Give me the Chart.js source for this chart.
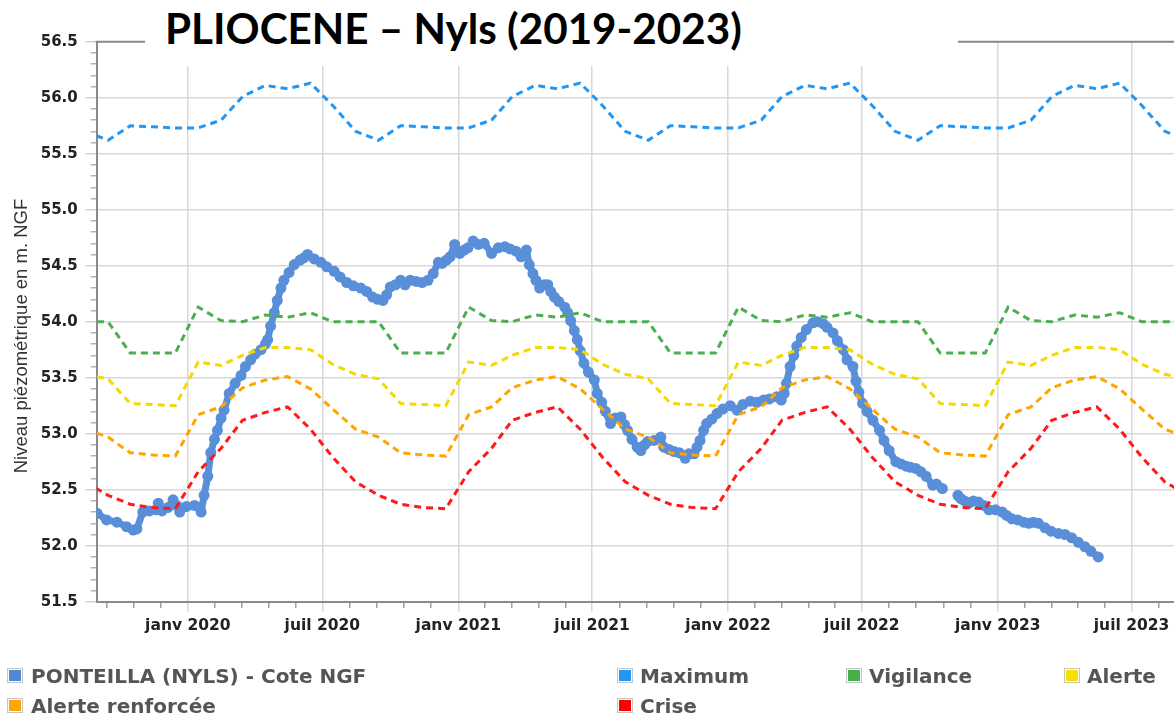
<!DOCTYPE html>
<html>
<head>
<meta charset="utf-8">
<script src="https://cdn.jsdelivr.net/npm/chart.js@4/dist/chart.umd.min.js"></script>
<style>
html,body{margin:0;padding:0;background:#fff;overflow:hidden;width:1174px;height:717px;}
#wrap{position:relative;width:1174px;height:717px;overflow:hidden;}
#c{position:absolute;left:0;top:0;}
#titleBox{position:absolute;left:145px;top:0;width:813px;height:66px;background:#fff;}
#title{position:absolute;left:20px;top:7px;font-family:Lato,"Open Sans",sans-serif;font-weight:700;font-size:42.2px;line-height:42.5px;color:#000;white-space:nowrap;}
#ytitle{position:absolute;left:21px;top:336px;transform:translate(-50%,-50%) rotate(-90deg);font-family:"Liberation Sans",Arial,sans-serif;font-size:18.5px;color:#333;white-space:nowrap;}
.lbx{position:absolute;width:14px;height:13px;border:1px solid #c4c4c4;box-shadow:inset 0 0 0 1px #fff;}
.ltx{position:absolute;font-family:"DejaVu Sans",sans-serif;font-weight:bold;font-size:20px;line-height:20px;color:#555;white-space:nowrap;}
</style>
</head>
<body>
<div id="wrap">
<canvas id="c" width="1200" height="717"></canvas>
<div id="titleBox"><div id="title">PLIOCENE – Nyls (2019-2023)</div></div>
<div id="ytitle">Niveau piézométrique en m. NGF</div>
<div id="legend"></div>
</div>
<script>
// ---------- DATA ----------
const tickDates = ['2019-07-01','2020-01-01','2020-07-01','2021-01-01','2021-07-01','2022-01-01','2022-07-01','2023-01-01','2023-07-01','2024-01-01'];
const tickLabels = ['juil 2019','janv 2020','juil 2020','janv 2021','juil 2021','janv 2022','juil 2022','janv 2023','juil 2023','janv 2024'];

const levelDates = [
'2019-08-31','2019-09-13','2019-09-27','2019-10-10','2019-10-19','2019-10-24','2019-11-01','2019-11-10','2019-11-19','2019-11-22',
'2019-11-27','2019-12-05','2019-12-12','2019-12-17','2019-12-21','2019-12-30','2020-01-10','2020-01-17','2020-01-19','2020-01-23',
'2020-01-28','2020-02-01','2020-02-06','2020-02-10','2020-02-15','2020-02-19','2020-02-26','2020-03-05','2020-03-13','2020-03-19',
'2020-03-26','2020-04-01','2020-04-09','2020-04-15','2020-04-18','2020-04-22','2020-04-27','2020-05-01','2020-05-06','2020-05-10',
'2020-05-17','2020-05-24','2020-06-01','2020-06-06','2020-06-11','2020-06-20','2020-06-29','2020-07-07','2020-07-17','2020-07-25',
'2020-08-03','2020-08-12','2020-08-22','2020-08-30','2020-09-07','2020-09-14','2020-09-21','2020-09-26','2020-10-01','2020-10-08',
'2020-10-15','2020-10-21','2020-10-28','2020-11-05','2020-11-13','2020-11-21','2020-11-28','2020-12-05','2020-12-10','2020-12-16',
'2020-12-21','2020-12-27','2021-01-03','2021-01-09','2021-01-14','2021-01-21','2021-01-28','2021-02-05','2021-02-15','2021-02-24',
'2021-03-05','2021-03-12','2021-03-20','2021-03-27','2021-04-03','2021-04-07','2021-04-12','2021-04-16','2021-04-21','2021-04-27',
'2021-05-02','2021-05-06','2021-05-11','2021-05-17','2021-05-25','2021-05-29','2021-06-02','2021-06-07','2021-06-11','2021-06-15',
'2021-06-20','2021-06-26','2021-07-04','2021-07-08','2021-07-14','2021-07-19','2021-07-26','2021-08-01','2021-08-09','2021-08-14',
'2021-08-18','2021-08-24','2021-08-31','2021-09-05','2021-09-10','2021-09-14','2021-09-23','2021-10-02','2021-10-06','2021-10-13',
'2021-10-20','2021-10-27','2021-11-04','2021-11-09','2021-11-16','2021-11-20','2021-11-24','2021-11-29','2021-12-03','2021-12-10',
'2021-12-17','2021-12-25','2022-01-04','2022-01-13','2022-01-21','2022-01-31','2022-02-09','2022-02-18','2022-02-26','2022-03-08',
'2022-03-14','2022-03-18','2022-03-21','2022-03-26','2022-03-31','2022-04-04','2022-04-10','2022-04-17','2022-04-26','2022-05-02',
'2022-05-10','2022-05-15','2022-05-23','2022-05-29','2022-06-06','2022-06-11','2022-06-19','2022-06-23','2022-06-27','2022-07-02',
'2022-07-08','2022-07-16','2022-07-25','2022-07-31','2022-08-07','2022-08-16','2022-08-23','2022-08-30','2022-09-05','2022-09-12',
'2022-09-19','2022-09-26','2022-10-05','2022-10-10','2022-10-18','2022-10-28','2022-11-08','2022-11-12','2022-11-17','2022-11-23',
'2022-11-29','2022-12-06','2022-12-13','2022-12-20','2022-12-29','2023-01-07','2023-01-13','2023-01-20','2023-01-28','2023-02-05',
'2023-02-12','2023-02-18','2023-02-25','2023-03-06','2023-03-14','2023-03-24','2023-04-02','2023-04-11','2023-04-20','2023-04-29',
'2023-05-07','2023-05-17'
];
const levelValues = [
52.29,52.23,52.21,52.17,52.14,52.15,52.30,52.31,52.32,52.38,
52.31,52.34,52.41,52.36,52.30,52.35,52.36,52.34,52.30,52.45,
52.62,52.83,52.95,53.03,53.14,53.21,53.36,53.45,53.52,53.60,
53.66,53.71,53.75,53.80,53.84,53.96,54.08,54.19,54.30,54.37,
54.44,54.51,54.55,54.57,54.60,54.56,54.53,54.49,54.45,54.40,
54.35,54.32,54.30,54.27,54.22,54.20,54.19,54.24,54.31,54.33,
54.37,54.33,54.37,54.36,54.35,54.37,54.43,54.53,54.52,54.55,
54.58,54.69,54.61,54.64,54.66,54.72,54.69,54.70,54.61,54.66,
54.67,54.65,54.63,54.58,54.64,54.51,54.43,54.37,54.30,54.33,
54.33,54.27,54.22,54.18,54.13,54.08,54.01,53.92,53.84,53.74,
53.63,53.55,53.48,53.36,53.28,53.20,53.09,53.14,53.15,53.08,
53.03,52.95,52.88,52.85,52.90,52.93,52.94,52.97,52.88,52.86,
52.84,52.83,52.78,52.82,52.82,52.88,52.94,53.03,53.09,53.13,
53.18,53.22,53.25,53.21,53.26,53.29,53.28,53.30,53.31,53.33,
53.30,53.36,53.45,53.60,53.70,53.78,53.86,53.93,53.99,54.00,
53.98,53.95,53.90,53.83,53.75,53.66,53.60,53.47,53.37,53.27,
53.20,53.12,53.03,52.94,52.85,52.75,52.73,52.71,52.70,52.69,
52.66,52.62,52.54,52.55,52.51,null,52.45,52.42,52.40,52.38,
52.40,52.39,52.36,52.32,52.32,52.30,52.27,52.24,52.23,52.21,
52.20,52.21,52.20,52.16,52.13,52.11,52.10,52.07,52.03,51.99,
51.95,51.90
];

const thresholdDates = [
'2019-08-15','2019-09-15','2019-10-15','2019-11-15','2019-12-15',
'2020-01-15','2020-02-15','2020-03-15','2020-04-15','2020-05-15','2020-06-15','2020-07-15','2020-08-15','2020-09-15','2020-10-15','2020-11-15','2020-12-15',
'2021-01-15','2021-02-15','2021-03-15','2021-04-15','2021-05-15','2021-06-15','2021-07-15','2021-08-15','2021-09-15','2021-10-15','2021-11-15','2021-12-15',
'2022-01-15','2022-02-15','2022-03-15','2022-04-15','2022-05-15','2022-06-15','2022-07-15','2022-08-15','2022-09-15','2022-10-15','2022-11-15','2022-12-15',
'2023-01-15','2023-02-15','2023-03-15','2023-04-15','2023-05-15','2023-06-15','2023-07-15','2023-08-15','2023-09-15'
];
const maximumValues = [
55.70,55.62,55.75,55.74,55.73,
55.73,55.80,56.01,56.11,56.08,56.13,55.93,55.70,55.62,55.75,55.74,55.73,
55.73,55.80,56.01,56.11,56.08,56.13,55.93,55.70,55.62,55.75,55.74,55.73,
55.73,55.80,56.01,56.11,56.08,56.13,55.93,55.70,55.62,55.75,55.74,55.73,
55.73,55.80,56.01,56.11,56.08,56.13,55.93,55.70,55.62
];
const vigilanceValues = [
54.00,54.00,53.72,53.72,53.72,
54.13,54.01,54.00,54.06,54.04,54.08,54.00,54.00,54.00,53.72,53.72,53.72,
54.13,54.01,54.00,54.06,54.04,54.08,54.00,54.00,54.00,53.72,53.72,53.72,
54.13,54.01,54.00,54.06,54.04,54.08,54.00,54.00,54.00,53.72,53.72,53.72,
54.13,54.01,54.00,54.06,54.04,54.08,54.00,54.00,54.00
];
const alerteValues = [
53.53,53.49,53.27,53.26,53.25,
53.64,53.61,53.70,53.77,53.77,53.75,53.62,53.53,53.49,53.27,53.26,53.25,
53.64,53.61,53.70,53.77,53.77,53.75,53.62,53.53,53.49,53.27,53.26,53.25,
53.64,53.61,53.70,53.77,53.77,53.75,53.62,53.53,53.49,53.27,53.26,53.25,
53.64,53.61,53.70,53.77,53.77,53.75,53.62,53.53,53.49
];
const alerteRenforceeValues = [
53.04,52.97,52.83,52.81,52.80,
53.17,53.24,53.41,53.48,53.51,53.40,53.22,53.04,52.97,52.83,52.81,52.80,
53.17,53.24,53.41,53.48,53.51,53.40,53.22,53.04,52.97,52.83,52.81,52.80,
53.17,53.24,53.41,53.48,53.51,53.40,53.22,53.04,52.97,52.83,52.81,52.80,
53.17,53.24,53.41,53.48,53.51,53.40,53.22,53.04,52.97
];
const criseValues = [
52.57,52.45,52.37,52.34,52.33,
52.66,52.87,53.12,53.19,53.24,53.04,52.79,52.57,52.45,52.37,52.34,52.33,
52.66,52.87,53.12,53.19,53.24,53.04,52.79,52.57,52.45,52.37,52.34,52.33,
52.66,52.87,53.12,53.19,53.24,53.04,52.79,52.57,52.45,52.37,52.34,52.33,
52.66,52.87,53.12,53.19,53.24,53.04,52.79,52.57,52.45
];

const seriesNames = ['PONTEILLA (NYLS) - Cote NGF','Maximum','Vigilance','Alerte','Alerte renforcée','Crise'];
const seriesColors = ['#588fd8','#2196f3','#4cae4f','#f5d800','#ffa500','#ff1a1a'];
const legendColors = ['#4f89d8','#2196f3','#43b049','#f7e000','#ffa500','#ff0000'];

// ---------- helpers ----------
const DAY0 = Date.UTC(2020,0,1);
const toDay = s => { const p = s.split('-').map(Number); return (Date.UTC(p[0],p[1]-1,p[2]) - DAY0) / 86400000; };
const X_MIN = -123.34, X_MAX = 1362.2;
const majorDays = tickDates.map(toDay);
const labelByDay = new Map(majorDays.map((d,i)=>[d, tickLabels[i]]));
const isMajorX = v => labelByDay.has(v);
const isMajorY = v => Math.round(v*10) % 5 === 0;

function buildXTicks(){
  const t = [];
  for (let i=0;i<majorDays.length;i++){
    t.push({value: majorDays[i]});
    if (i < majorDays.length-1){
      const step = (majorDays[i+1]-majorDays[i])/5;
      for (let k=1;k<5;k++) t.push({value: majorDays[i]+k*step});
    }
  }
  return t.filter(o => o.value >= X_MIN && o.value <= X_MAX);
}
function buildYTicks(){
  const t=[];
  for (let k=0;k<=50;k++) t.push({value:(515+k)/10});
  return t;
}

const pts = (dates, vals) => dates.map((d,i)=>({x: toDay(d), y: vals[i]}));

function thr(idx, vals){
  return { label: seriesNames[idx], data: pts(thresholdDates, vals), borderColor: seriesColors[idx], backgroundColor: seriesColors[idx],
    borderWidth: 3, borderDash: [7,5], pointRadius: 0, tension: 0, order: 0, fill:false };
}

const framePlugin = {
  id: 'frame',
  beforeDatasetsDraw(chart){
    const {ctx, chartArea:a} = chart;
    ctx.save(); ctx.strokeStyle = '#8a8a8a'; ctx.lineWidth = 2;
    ctx.beginPath(); ctx.moveTo(a.left-1, a.top); ctx.lineTo(a.right, a.top); ctx.stroke();
    ctx.restore();
  }
};

new Chart(document.getElementById('c'), {
  type: 'line',
  data: {
    datasets: [
      { label: seriesNames[0], data: pts(levelDates, levelValues), borderColor: seriesColors[0], backgroundColor: seriesColors[0],
        borderWidth: 7, borderJoinStyle: 'round', borderCapStyle: 'round', pointRadius: 5.5, pointBorderWidth: 0, pointHoverRadius: 0,
        spanGaps: false, tension: 0, order: 1 },
      thr(1, maximumValues), thr(2, vigilanceValues), thr(3, alerteValues), thr(4, alerteRenforceeValues), thr(5, criseValues)
    ]
  },
  options: {
    responsive: false, animation: false, devicePixelRatio: 1,
    layout: { padding: { top: 41.7, left: 0, right: 0, bottom: 0 } },
    plugins: { legend: { display: false }, tooltip: { enabled: false }, title: { display: false } },
    events: [],
    scales: {
      x: {
        type: 'linear', min: X_MIN, max: X_MAX,
        afterBuildTicks: s => { s.ticks = buildXTicks(); },
        afterFit: s => { s.height = 115.3; },
        border: { color: '#8a8a8a', width: 2 },
        grid: {
          color: c => isMajorX(c.tick.value) ? '#d8d8d8' : 'rgba(0,0,0,0)',
          lineWidth: 1.5, tickLength: 10,
          tickColor: c => isMajorX(c.tick.value) ? '#d8d8d8' : '#a0a0a0',
          tickBorderDash: c => isMajorX(c.tick.value) ? [] : [5, 100]
        },
        ticks: {
          autoSkip: false, maxRotation: 0, minRotation: 0, padding: 5, color: '#222',
          font: { family: 'DejaVu Sans', weight: 'bold', size: 15.5 },
          callback: v => labelByDay.get(v) || ''
        }
      },
      y: {
        type: 'linear', min: 51.5, max: 56.5,
        afterBuildTicks: s => { s.ticks = buildYTicks(); },
        afterFit: s => { s.width = 96.7; },
        border: { color: '#8a8a8a', width: 2 },
        grid: {
          color: c => isMajorY(c.tick.value) ? '#d8d8d8' : 'rgba(0,0,0,0)',
          lineWidth: 1.5, tickLength: 11,
          tickColor: c => isMajorY(c.tick.value) ? '#d0d0d0' : '#b4b4b4',
          tickBorderDash: c => isMajorY(c.tick.value) ? [] : [0, 5, 6, 100]
        },
        ticks: {
          autoSkip: false, padding: 8, color: '#222',
          font: { family: 'DejaVu Sans', weight: 'bold', size: 15 },
          callback: v => isMajorY(v) ? v.toFixed(1) : ''
        }
      }
    }
  },
  plugins: [framePlugin]
});

// ---------- HTML legend ----------
const legendSlots = [
  {i:0, bx:7,   tx:31,  row:0},
  {i:1, bx:617, tx:640, row:0},
  {i:2, bx:846, tx:869, row:0},
  {i:3, bx:1064,tx:1087,row:0},
  {i:4, bx:7,   tx:31,  row:1},
  {i:5, bx:617, tx:640, row:1}
];
const lg = document.getElementById('legend');
legendSlots.forEach(s => {
  const top = 668 + s.row*30;
  const b = document.createElement('div'); b.className='lbx';
  b.style.left = s.bx+'px'; b.style.top = top+'px'; b.style.background = legendColors[s.i];
  const t = document.createElement('div'); t.className='ltx';
  t.style.left = s.tx+'px'; t.style.top = (top-2)+'px'; t.textContent = seriesNames[s.i];
  lg.appendChild(b); lg.appendChild(t);
});
</script>
</body>
</html>
